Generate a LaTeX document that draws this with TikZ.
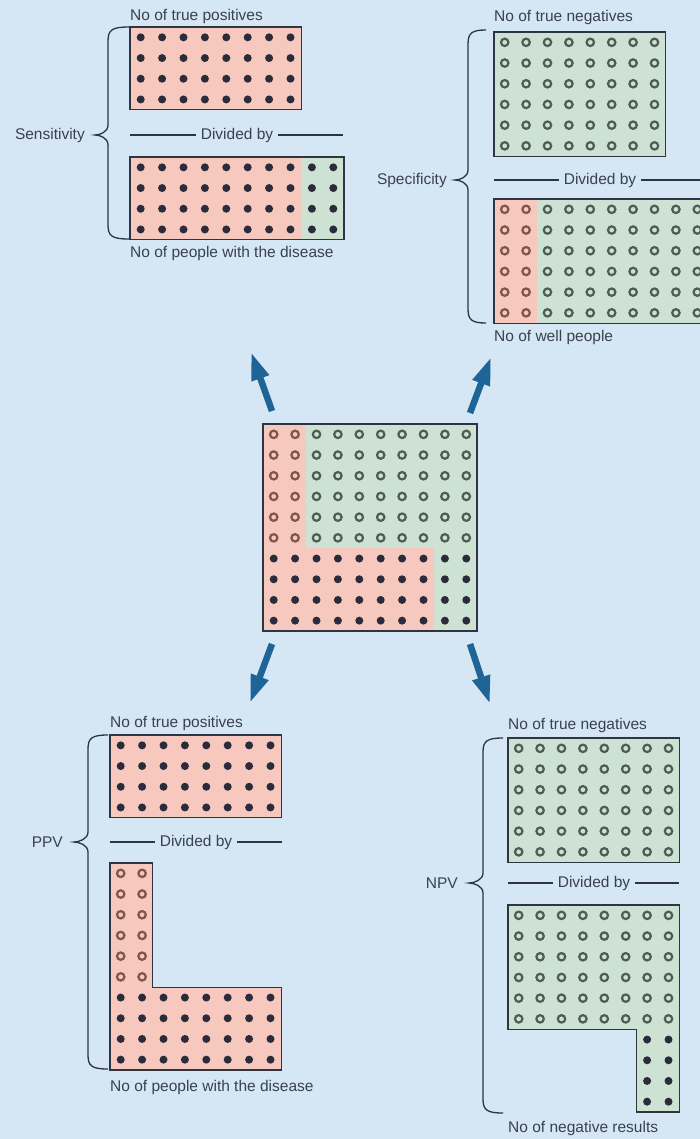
\documentclass[tikz,border=0pt]{standalone}
\usepackage{fontspec}
\setmainfont{Liberation Sans}
\usetikzlibrary{arrows.meta}
\definecolor{bg}{HTML}{D5E6F5}
\definecolor{pinkc}{HTML}{F6C8BE}
\definecolor{greenc}{HTML}{CDE2D2}
\definecolor{edgec}{HTML}{2F3540}
\definecolor{dotc}{HTML}{2A2C3C}
\definecolor{openg}{HTML}{4E5C58}
\definecolor{openp}{HTML}{7E564E}
\definecolor{txtc}{HTML}{3B414D}
\definecolor{arrc}{HTML}{1E6496}
\newcommand{\cw}{21.4}
\newcommand{\ch}{20.7}
% region fill: x0 y0 c1 r1 c2 r2 colour (c2,r2 exclusive)
\newcommand{\regn}[7]{\fill[#7] ({#1+#3*\cw},{#2+#4*\ch}) rectangle ({#1+#5*\cw},{#2+#6*\ch});}
% filled dots: x0 y0 c1 r1 c2 r2 (inclusive)
\newcommand{\fdots}[6]{\foreach \ii in {#3,...,#5}{\foreach \jj in {#4,...,#6}{\fill[dotc] ({#1+(\ii+0.5)*\cw},{#2+(\jj+0.5)*\ch}) circle (4pt);}}}
% open dots: x0 y0 c1 r1 c2 r2 colour
\newcommand{\odots}[7]{\foreach \ii in {#3,...,#5}{\foreach \jj in {#4,...,#6}{\draw[#7,line width=2.2pt] ({#1+(\ii+0.5)*\cw},{#2+(\jj+0.5)*\ch}) circle (3.7pt);}}}
% rectangle outline: x0 y0 cols rows
\newcommand{\boxo}[4]{\draw[boxedge] (#1,#2) rectangle ({#1+#3*\cw},{#2+#4*\ch});}
% brace: linex top tipx tipy bottom endx
\newcommand{\brc}[6]{\draw[bracec] (#6,#2) .. controls ({#1+4},#2) and (#1,{#2+3}) .. (#1,{#2+14}) -- (#1,{#4-10}) .. controls (#1,{#4-3}) and ({#3+5},#4) .. (#3,#4) .. controls ({#3+5},#4) and (#1,{#4+3}) .. (#1,{#4+10}) -- (#1,{#5-14}) .. controls (#1,{#5-3}) and ({#1+4},#5) .. (#6,#5);}
\tikzset{
  boxedge/.style={draw=edgec,line width=1.3pt,line join=miter},
  bracec/.style={draw=edgec,line width=1.3pt},
  txt/.style={text=txtc,font=\fontsize{15.5}{18}\selectfont,inner sep=0pt},
  divtxt/.style={txt,inner xsep=5pt},
  divline/.style={draw=edgec,line width=1.1pt},
  bigarrow/.style={draw=arrc,line width=6.5pt,-{Triangle[length=28pt,width=17pt]}}
}
\begin{document}
\begin{tikzpicture}[x=1pt,y=-1pt]
\useasboundingbox (0,0) rectangle (700,1139);
\fill[bg] (0,0) rectangle (700,1139);

% ---------- top-left: sensitivity ----------
\regn{130}{27}{0}{0}{8}{4}{pinkc}
\fdots{130}{27}{0}{0}{7}{3}
\boxo{130}{27}{8}{4}
\regn{130}{157}{0}{0}{8}{4}{pinkc}
\regn{130}{157}{8}{0}{10}{4}{greenc}
\fdots{130}{157}{0}{0}{9}{3}
\boxo{130}{157}{10}{4}
\node[txt,anchor=west] (tl1) at (130,16) {No of true positives};
\node[txt,anchor=west] (tl2) at (130,253) {No of people with the disease};
\node[txt,anchor=east] (sens) at (85,135) {Sensitivity};
\node[divtxt] (tldiv) at (237,135) {Divided by};
\coordinate (tldl) at (130,135);
\coordinate (tldr) at (343,135);
\draw[divline] (tldl) -- (tldiv.west);
\draw[divline] (tldiv.east) -- (tldr);
\brc{108}{27}{95}{135}{239}{129}

% ---------- top-right: specificity ----------
\regn{494}{32}{0}{0}{8}{6}{greenc}
\odots{494}{32}{0}{0}{7}{5}{openg}
\boxo{494}{32}{8}{6}
\regn{494}{199}{0}{0}{2}{6}{pinkc}
\regn{494}{199}{2}{0}{10}{6}{greenc}
\odots{494}{199}{0}{0}{1}{5}{openp}
\odots{494}{199}{2}{0}{9}{5}{openg}
\boxo{494}{199}{10}{6}
\node[txt,anchor=west] (tr1) at (494,17) {No of true negatives};
\node[txt,anchor=west] (tr2) at (494,337) {No of well people};
\node[txt,anchor=east] (spec) at (447,180) {Specificity};
\node[divtxt] (trdiv) at (600,180) {Divided by};
\coordinate (trdl) at (494,180);
\coordinate (trdr) at (700,180);
\draw[divline] (trdl) -- (trdiv.west);
\draw[divline] (trdiv.east) -- (trdr);
\brc{468}{30}{455}{180}{323}{486}

% ---------- centre ----------
\regn{263}{424}{0}{0}{2}{10}{pinkc}
\regn{263}{424}{2}{6}{8}{10}{pinkc}
\regn{263}{424}{2}{0}{10}{6}{greenc}
\regn{263}{424}{8}{6}{10}{10}{greenc}
\odots{263}{424}{0}{0}{1}{5}{openp}
\odots{263}{424}{2}{0}{9}{5}{openg}
\fdots{263}{424}{0}{6}{9}{9}
\boxo{263}{424}{10}{10}

% ---------- arrows ----------
\coordinate (a1s) at (272,411); \coordinate (a1e) at (251,352);
\coordinate (a2s) at (470,413); \coordinate (a2e) at (491,357);
\coordinate (a3s) at (272,644); \coordinate (a3e) at (250,703);
\coordinate (a4s) at (470,644); \coordinate (a4e) at (490,704);
\draw[bigarrow] (a1s) -- (a1e);
\draw[bigarrow] (a2s) -- (a2e);
\draw[bigarrow] (a3s) -- (a3e);
\draw[bigarrow] (a4s) -- (a4e);

% ---------- bottom-left: PPV ----------
\regn{110}{735}{0}{0}{8}{4}{pinkc}
\fdots{110}{735}{0}{0}{7}{3}
\boxo{110}{735}{8}{4}
\regn{110}{863}{0}{0}{2}{6}{pinkc}
\regn{110}{863}{0}{6}{8}{10}{pinkc}
\odots{110}{863}{0}{0}{1}{5}{openp}
\fdots{110}{863}{0}{6}{7}{9}
\draw[boxedge] (110,863) -- ({110+2*\cw},863) -- ({110+2*\cw},{863+6*\ch}) -- ({110+8*\cw},{863+6*\ch}) -- ({110+8*\cw},{863+10*\ch}) -- (110,{863+10*\ch}) -- cycle;
\node[txt,anchor=west] (bl1) at (110,723) {No of true positives};
\node[txt,anchor=west] (bl2) at (110,1087) {No of people with the disease};
\node[txt,anchor=east] (ppv) at (63,842) {PPV};
\node[divtxt] (bldiv) at (196,842) {Divided by};
\coordinate (bldl) at (110,842);
\coordinate (bldr) at (282,842);
\draw[divline] (bldl) -- (bldiv.west);
\draw[divline] (bldiv.east) -- (bldr);
\brc{88}{735}{74}{842}{1069}{108}

% ---------- bottom-right: NPV ----------
\regn{508}{738}{0}{0}{8}{6}{greenc}
\odots{508}{738}{0}{0}{7}{5}{openg}
\boxo{508}{738}{8}{6}
\regn{508}{905}{0}{0}{8}{6}{greenc}
\regn{508}{905}{6}{6}{8}{10}{greenc}
\odots{508}{905}{0}{0}{7}{5}{openg}
\fdots{508}{905}{6}{6}{7}{9}
\draw[boxedge] (508,905) -- ({508+8*\cw},905) -- ({508+8*\cw},{905+10*\ch}) -- ({508+6*\cw},{905+10*\ch}) -- ({508+6*\cw},{905+6*\ch}) -- (508,{905+6*\ch}) -- cycle;
\node[txt,anchor=west] (br1) at (508,725) {No of true negatives};
\node[txt,anchor=west] (br2) at (508,1128) {No of negative results};
\node[txt,anchor=east] (npv) at (458,883) {NPV};
\node[divtxt] (brdiv) at (594,883) {Divided by};
\coordinate (brdl) at (508,883);
\coordinate (brdr) at (679,883);
\draw[divline] (brdl) -- (brdiv.west);
\draw[divline] (brdiv.east) -- (brdr);
\brc{483}{738}{469}{883}{1113}{503}
\end{tikzpicture}
\end{document}
